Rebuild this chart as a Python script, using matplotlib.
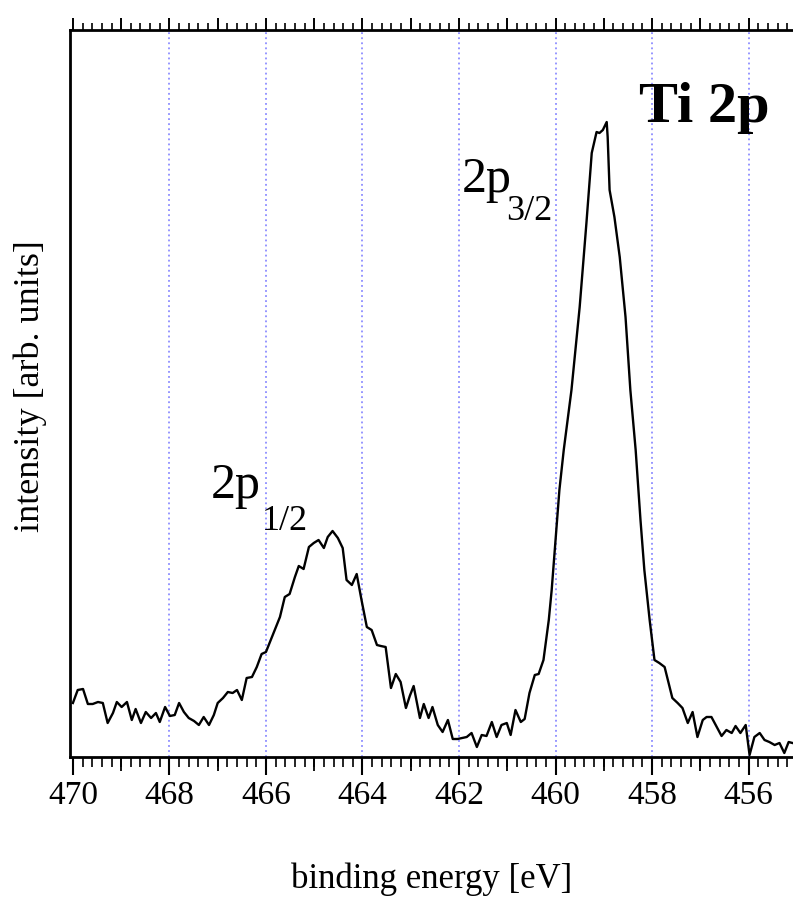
import matplotlib
matplotlib.use("Agg")
import matplotlib.pyplot as plt
from matplotlib.ticker import MultipleLocator, FixedLocator, NullFormatter

plt.rcParams['font.family'] = ['Liberation Serif', 'DejaVu Serif']

energy = [470.00, 469.90, 469.79, 469.69, 469.59, 469.48, 469.38, 469.28, 469.17, 469.09,
          468.99, 468.88, 468.78, 468.70, 468.59, 468.49, 468.38, 468.28, 468.20, 468.09,
          467.99, 467.89, 467.80, 467.70, 467.60, 467.49, 467.39, 467.29, 467.18, 467.08,
          467.00, 466.89, 466.79, 466.69, 466.60, 466.50, 466.40, 466.29, 466.19, 466.09,
          466.00, 465.90, 465.80, 465.71, 465.61, 465.51, 465.40, 465.32, 465.22, 465.11,
          465.01, 464.91, 464.80, 464.72, 464.62, 464.51, 464.41, 464.33, 464.22, 464.12,
          464.02, 463.91, 463.81, 463.70, 463.62, 463.52, 463.41, 463.31, 463.21, 463.10,
          463.02, 462.94, 462.81, 462.73, 462.63, 462.55, 462.44, 462.34, 462.23, 462.13,
          462.03, 461.94, 461.84, 461.74, 461.63, 461.53, 461.43, 461.32, 461.22, 461.12,
          461.01, 460.93, 460.83, 460.72, 460.64, 460.54, 460.43, 460.35, 460.25, 460.14,
          460.08, 460.00, 459.92, 459.83, 459.75, 459.67, 459.50, 459.36, 459.25, 459.15,
          459.09, 459.02, 458.94, 458.92, 458.88, 458.78, 458.67, 458.55, 458.45, 458.34,
          458.24, 458.16, 458.05, 457.95, 457.85, 457.74, 457.58, 457.47, 457.37, 457.26,
          457.16, 457.06, 456.95, 456.87, 456.77, 456.66, 456.56, 456.46, 456.35, 456.27,
          456.17, 456.06, 455.98, 455.88, 455.77, 455.67, 455.57, 455.46, 455.36, 455.26,
          455.17, 455.09]

intensity = [54, 67, 68, 53, 53, 55, 54, 34, 44, 55,
             50, 55, 37, 48, 34, 45, 39, 44, 35, 50,
             41, 42, 54, 45, 39, 36, 32, 40, 32, 42,
             54, 59, 65, 64, 67, 57, 79, 80, 90, 103,
             105, 117, 129, 140, 160, 163, 180, 191, 188, 210,
             214, 217, 209, 220, 226, 219, 209, 177, 172, 183,
             157, 130, 127, 112, 111, 110, 69, 83, 75, 49,
             61, 71, 39, 53, 39, 50, 32, 25, 37, 18,
             18, 19, 20, 24, 10, 22, 21, 35, 20, 32,
             34, 22, 47, 35, 38, 64, 82, 83, 97, 137,
             167, 217, 267, 307, 337, 367, 450, 534, 604, 625,
             624, 627, 635, 620, 567, 540, 500, 440, 367, 307,
             237, 187, 137, 97, 94, 90, 59, 54, 49, 34,
             45, 20, 37, 40, 40, 30, 21, 27, 24, 31,
             24, 32, 2, 20, 24, 17, 15, 12, 14, 4,
             15, 14]

grid_positions = [468, 466, 464, 462, 460, 458, 456]
label_ticks = [470, 468, 466, 464, 462, 460, 458, 456]
odd_ticks = [469, 467, 465, 463, 461, 459, 457, 455]

fig = plt.figure(figsize=(7.93, 9.01), dpi=100)
ax = fig.add_axes([70/793, 1-757/901, 1-70/793, (757-30)/901])

for g in grid_positions:
    ax.axvline(g, color='#8c8cff', lw=1.3, ls=(0, (1, 1.8)), zorder=0)

ax.plot(energy, intensity, color='black', lw=1.7, zorder=3)

ax.set_xlim(470.06, 455.08)
ax.set_ylim(0, 727)

for s in ['left', 'bottom', 'top']:
    ax.spines[s].set_linewidth(2.0)
ax.spines['right'].set_visible(False)

ax.yaxis.set_visible(False)

ax.xaxis.set_major_locator(FixedLocator(label_ticks))
ax.xaxis.set_minor_locator(MultipleLocator(0.2))
ax.tick_params(axis='x', which='major', direction='out', length=13, width=1.5,
               labelsize=24, pad=4, top=False)
ax.tick_params(axis='x', which='minor', direction='out', length=7, width=1.2, top=False)

sec = ax.secondary_xaxis('bottom')
sec.xaxis.set_major_locator(FixedLocator(odd_ticks))
sec.xaxis.set_minor_locator(FixedLocator([]))
sec.xaxis.set_major_formatter(NullFormatter())
sec.tick_params(axis='x', which='major', direction='out', length=10, width=1.3)
sec.spines['bottom'].set_visible(False)

top = ax.secondary_xaxis('top')
top.xaxis.set_major_locator(MultipleLocator(1))
top.xaxis.set_minor_locator(MultipleLocator(0.2))
top.xaxis.set_major_formatter(NullFormatter())
top.tick_params(axis='x', which='major', direction='out', length=9, width=1.4)
top.tick_params(axis='x', which='minor', direction='out', length=5, width=1.2)
top.spines['top'].set_visible(False)

ax.set_xlabel('binding energy [eV]', fontsize=25)
ax.xaxis.set_label_coords(0.5, (757-879)/727)
ax.xaxis.label.set_verticalalignment('center')

fig.text(30/793, 1-386/901, 'intensity [arb. units]', fontsize=26, rotation=90,
         ha='center', va='center')

ax.text(455.57, 635, 'Ti 2p', fontsize=42, fontweight='bold', ha='right', va='baseline')
ax.text(461.94, 565, '2p', fontsize=36, ha='left', va='baseline')
ax.text(461.03, 537, '3/2', fontsize=26, ha='left', va='baseline')
ax.text(467.14, 259, '2p', fontsize=36, ha='left', va='baseline')
ax.text(466.09, 227, '1/2', fontsize=26, ha='left', va='baseline')

fig.savefig('out.png', dpi=100)
